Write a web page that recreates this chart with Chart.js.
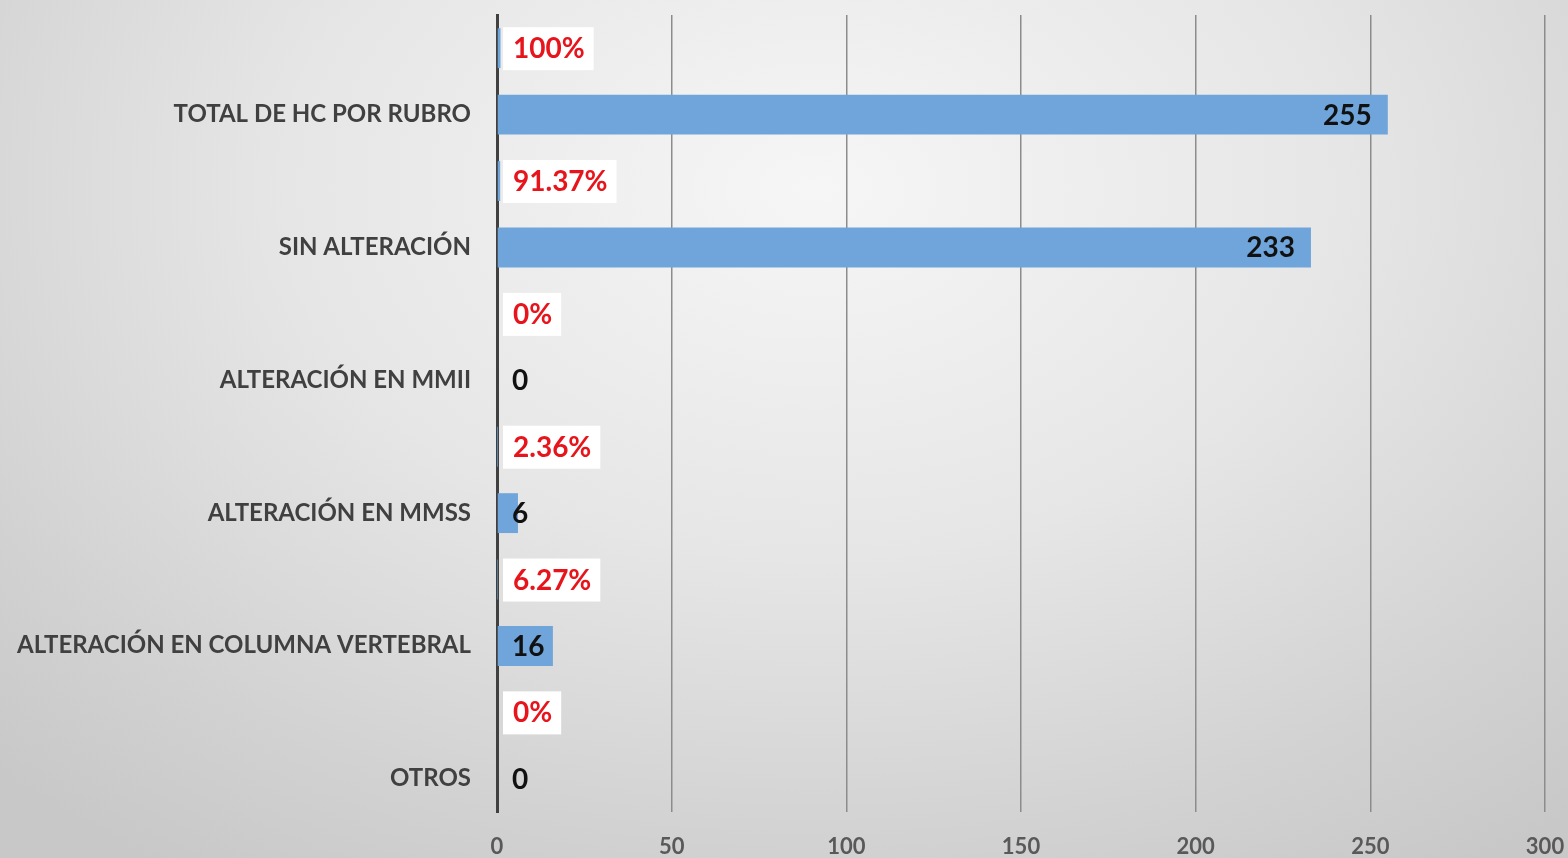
<!DOCTYPE html>
<html>
<head>
<meta charset="utf-8">
<script src="https://cdn.jsdelivr.net/npm/chart.js@4/dist/chart.umd.min.js"></script>
<style>
    html, body {
        margin: 0;
        padding: 0;
        width: 1568px;
        height: 858px;
        overflow: hidden;
    }
    body {
        background: radial-gradient(ellipse 75% 95% at 52% 22%, #f6f6f6 0%, #e6e6e6 45%, #d2d2d2 80%, #c8c8c8 100%);
    }
    #wrap {
        position: relative;
        width: 1568px;
        height: 858px;
    }
</style>
</head>
<body>
<div id="wrap"><canvas id="rubroChart"></canvas></div>
<script>
// Data (top to bottom as drawn)
const categories = [
    'TOTAL DE HC POR RUBRO',
    'SIN ALTERACIÓN',
    'ALTERACIÓN EN MMII',
    'ALTERACIÓN EN MMSS',
    'ALTERACIÓN EN COLUMNA VERTEBRAL',
    'OTROS'
];
const percentValues = [1, 0.9137, 0, 0.0236, 0.0627, 0];
const countValues = [255, 233, 0, 6, 16, 0];
const xTicks = [0, 50, 100, 150, 200, 250, 300];

const barColor = 'rgba(111, 165, 218, 1)';

function formatPercent(v) {
    return parseFloat((v * 100).toFixed(2)) + '%';
}

// Draws the red percent labels (white box) and black count labels
const labelPlugin = {
    id: 'barLabels',
    afterDatasetsDraw(chart) {
        const ctx = chart.ctx;
        const xScale = chart.scales.x;
        const zeroX = xScale.getPixelForValue(0);
        ctx.save();
        ctx.font = 'bold 28px Lato';
        ctx.textBaseline = 'middle';

        // percent labels
        chart.getDatasetMeta(0).data.forEach(function(bar, i) {
            const text = formatPercent(percentValues[i]);
            const w = ctx.measureText(text).width;
            const boxX = zeroX + 6;
            ctx.fillStyle = '#ffffff';
            ctx.fillRect(boxX, bar.y - 21, w + 19, 43);
            ctx.fillStyle = '#e8141b';
            ctx.textAlign = 'left';
            ctx.fillText(text, boxX + 10, bar.y + 1);
        });

        // count labels
        chart.getDatasetMeta(1).data.forEach(function(bar, i) {
            const text = String(countValues[i]);
            const w = ctx.measureText(text).width;
            const right = Math.max(bar.x - 16, zeroX + 15 + w);
            ctx.fillStyle = '#111111';
            ctx.textAlign = 'right';
            ctx.fillText(text, right, bar.y + 1);
        });
        ctx.restore();
    }
};

function initializeChart() {
    const ctx = document.getElementById('rubroChart').getContext('2d');
    new Chart(ctx, {
        type: 'bar',
        data: {
            labels: categories,
            datasets: [{
                label: 'Porcentaje',
                data: percentValues,
                backgroundColor: barColor,
                barPercentage: 0.6,
                categoryPercentage: 1
            }, {
                label: 'Total',
                data: countValues,
                backgroundColor: barColor,
                barPercentage: 0.6,
                categoryPercentage: 1
            }]
        },
        options: {
            indexAxis: 'y',
            responsive: true,
            maintainAspectRatio: false,
            animation: false,
            layout: {
                padding: { top: 15, right: 23, left: 0, bottom: 0 }
            },
            plugins: {
                legend: { display: false },
                tooltip: { enabled: false }
            },
            scales: {
                x: {
                    min: 0,
                    max: 300,
                    afterBuildTicks: function(axis) {
                        axis.ticks = xTicks.map(function(v) { return { value: v }; });
                    },
                    afterFit: function(axis) {
                        axis.height = 46;
                        axis.paddingLeft = 0;
                        axis.paddingRight = 0;
                    },
                    grid: {
                        color: '#8c8c8c',
                        lineWidth: 1.5,
                        drawTicks: false
                    },
                    border: { display: false },
                    ticks: {
                        padding: 22,
                        color: '#595959',
                        font: { family: 'Lato', size: 22, weight: 'bold' }
                    }
                },
                y: {
                    afterFit: function(axis) {
                        axis.width = 497;
                        axis.paddingTop = 0;
                        axis.paddingBottom = 0;
                    },
                    grid: { display: false, drawTicks: false },
                    border: { display: true, color: '#404040', width: 3 },
                    ticks: {
                        padding: 26,
                        labelOffset: 33,
                        color: '#404040',
                        font: { family: 'Lato', size: 24, weight: 'bold' }
                    }
                }
            }
        },
        plugins: [labelPlugin]
    });
}

document.fonts.load('bold 24px Lato').then(initializeChart, initializeChart);
</script>
</body>
</html>
